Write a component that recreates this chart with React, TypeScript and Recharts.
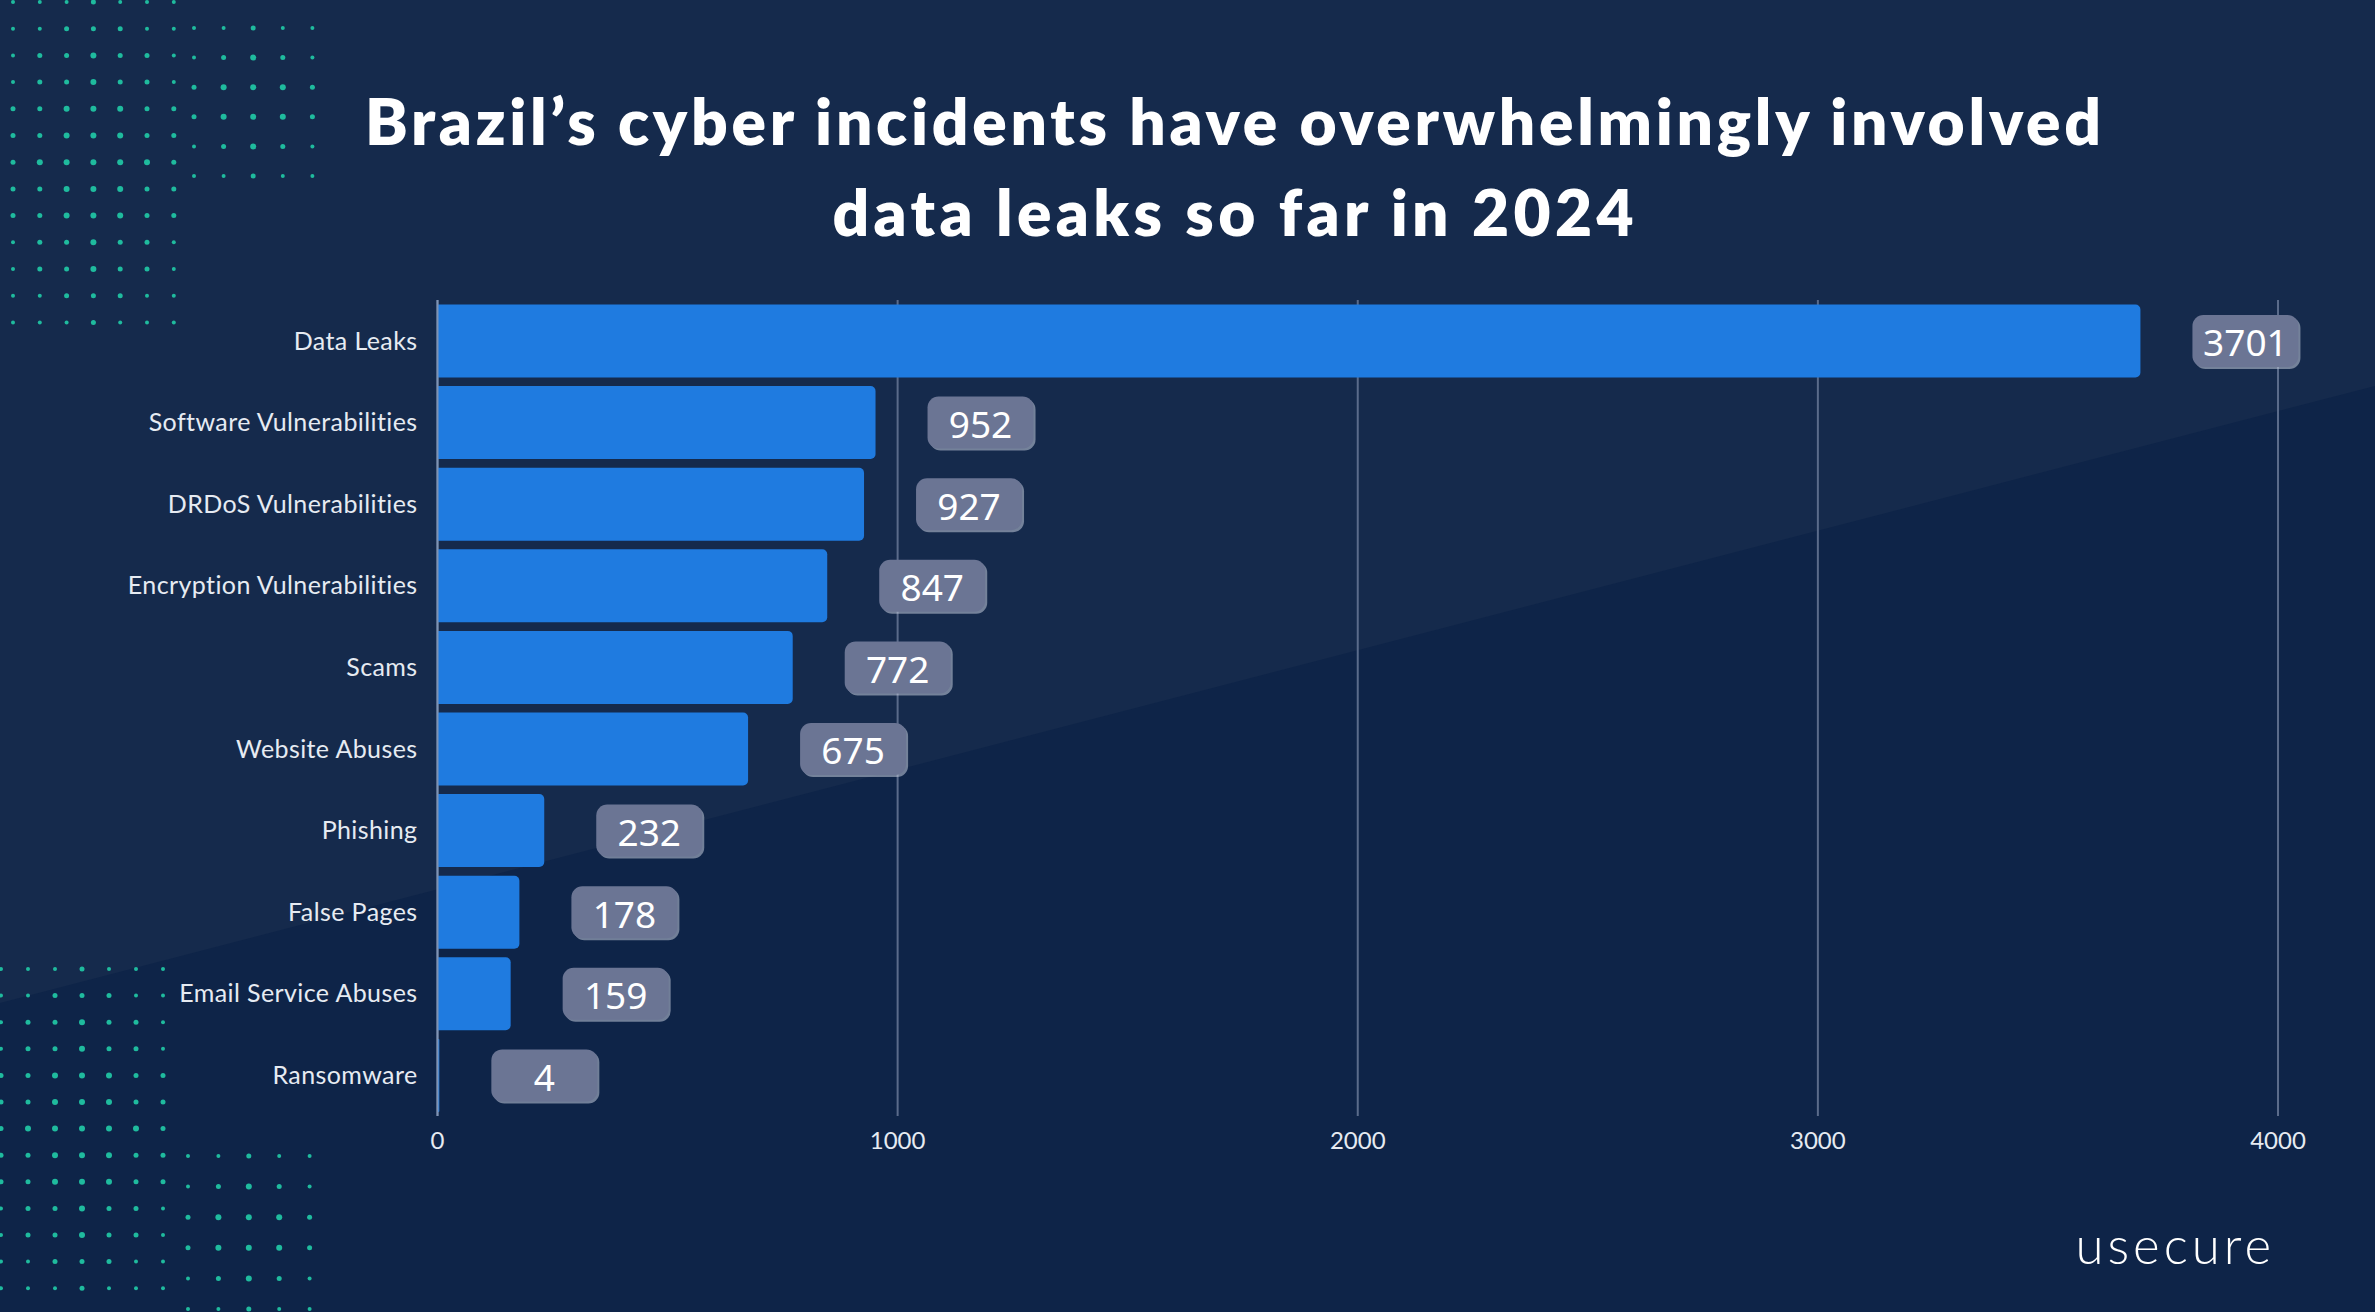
import React from "react";
import { BarChart, Bar, XAxis, YAxis, CartesianGrid, LabelList } from "recharts";

// incident categories, top to bottom
const categories = [
  "Data Leaks",
  "Software Vulnerabilities",
  "DRDoS Vulnerabilities",
  "Encryption Vulnerabilities",
  "Scams",
  "Website Abuses",
  "Phishing",
  "False Pages",
  "Email Service Abuses",
  "Ransomware",
];
const incidents = [3701, 952, 927, 847, 772, 675, 232, 178, 159, 4];
const xTicks = [0, 1000, 2000, 3000, 4000];

const titleLines = [
  "Brazil’s cyber incidents have overwhelmingly involved",
  "data leaks so far in 2024",
];

const W = 2375;
const H = 1312;
const FONT = "Lato, 'Noto Sans', sans-serif";

const data = categories.map((name, i) => ({ name, value: incidents[i] }));

// rounded grey badge placed a bit past the bar end
const Badge = (props: any) => {
  const { x, y, width, height, value } = props;
  const bx = x + width + 52;
  const bw = 106;
  const bh = 52;
  const by = y + height / 2 - bh / 2;
  return (
    <g>
      <rect x={bx + 2} y={by + 2} width={bw} height={bh} rx={11} fill="#c3cadb" opacity={0.55} />
      <rect x={bx} y={by} width={bw} height={bh} rx={11} fill="#6b7594" />
      <text
        x={bx + bw / 2}
        y={by + bh / 2 + 1}
        textAnchor="middle"
        dominantBaseline="central"
        fill="#ffffff"
        fontSize={37}
        fontFamily="'Noto Sans', sans-serif"
      >
        {value}
      </text>
    </g>
  );
};

// teal dot grids in the left corners
function DotGrid({ x0, y0, dx, dy, cols, rows }: any) {
  const dots = [];
  for (let i = 0; i < cols; i++) {
    for (let j = 0; j < rows; j++) {
      const mid = Math.abs(i - (cols - 1) / 2) / cols + Math.abs(j - (rows - 1) / 2) / rows;
      const r = mid < 0.35 ? 3 : mid < 0.6 ? 2.5 : 2;
      dots.push(<circle key={`${i}-${j}`} cx={x0 + i * dx} cy={y0 + j * dy} r={r} fill="#1fbb9e" />);
    }
  }
  return <g>{dots}</g>;
}

function Background() {
  return (
    <svg width={W} height={H} style={{ position: "absolute", left: 0, top: 0 }}>
      <rect x={0} y={0} width={W} height={H} fill="#0e2448" />
      <polygon points={`0,0 ${W},0 ${W},386 0,1003`} fill="#152a4c" />
      <DotGrid x0={13} y0={2} dx={26.8} dy={26.7} cols={7} rows={13} />
      <DotGrid x0={194} y0={28} dx={29.6} dy={29.6} cols={5} rows={6} />
      <DotGrid x0={1} y0={969} dx={27} dy={26.6} cols={7} rows={13} />
      <DotGrid x0={188} y0={1156} dx={30.4} dy={30.6} cols={5} rows={6} />
    </svg>
  );
}

const titleWidths = [1736, 801];

export default function App() {
  return (
    <div style={{ position: "absolute", left: 0, top: 0, width: W, height: H, overflow: "hidden" }}>
      <Background />
      <svg width={W} height={H} style={{ position: "absolute", left: 0, top: 0 }}>
        {titleLines.map((t, i) => (
          <text
            key={i}
            x={1233}
            y={145 + i * 91}
            textAnchor="middle"
            fill="#ffffff"
            fontSize={64}
            fontWeight={800}
            fontFamily={FONT}
            textLength={titleWidths[i]}
            lengthAdjust="spacing"
          >
            {t}
          </text>
        ))}
        <text
          x={2275}
          y={1264}
          textAnchor="end"
          fill="#ffffff"
          fontSize={51}
          fontWeight={300}
          letterSpacing={4}
          fontFamily={FONT}
        >
          usecure
        </text>
      </svg>
      <div style={{ position: "absolute", left: 0, top: 0 }}>
        <BarChart
          width={W}
          height={H}
          data={data}
          layout="vertical"
          barCategoryGap="5.5%"
          margin={{ top: 300, right: 97, bottom: 156, left: 0 }}
        >
          <CartesianGrid horizontal={false} stroke="#5a6b8a" strokeWidth={2} />
          <XAxis
            type="number"
            domain={[0, 4000]}
            ticks={xTicks}
            axisLine={false}
            tickLine={false}
            tickSize={6}
            tickMargin={10}
            height={40}
            tick={{ fill: "#e6ebf2", fontSize: 24, fontFamily: FONT }}
          />
          <YAxis
            type="category"
            dataKey="name"
            width={437.5}
            axisLine={{ stroke: "#7f93b4", strokeWidth: 2 }}
            tickLine={false}
            tickSize={8}
            tickMargin={12}
            tick={{ fill: "#e6ebf2", fontSize: 25, letterSpacing: 0.4, fontFamily: FONT }}
          />
          <Bar dataKey="value" fill="#1f7be0" radius={[0, 5, 5, 0]} isAnimationActive={false}>
            <LabelList dataKey="value" content={<Badge />} />
          </Bar>
        </BarChart>
      </div>
    </div>
  );
}
